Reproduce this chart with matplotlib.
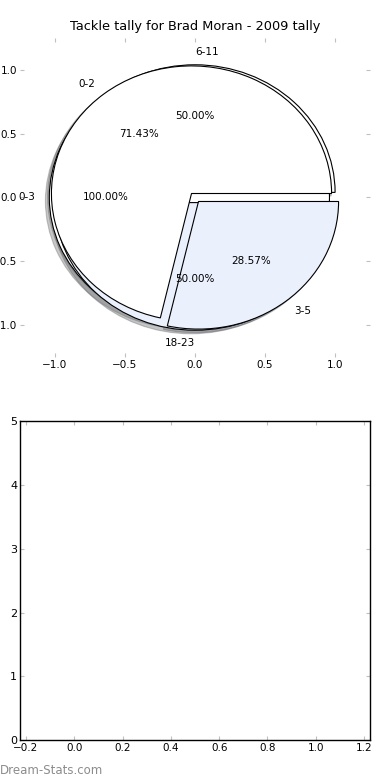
## tackle tally pies, recreated
#

import numpy as np
import matplotlib.pyplot as plt

# three pies drawn on top of each other
labels_a = ['0-3']
sizes_a = [1]
labels_b = ['6-11', '18-23']
sizes_b = [1, 1]
labels_c = ['0-2', '3-5']
sizes_c = [5, 2]

pie_colors = ['white', '#eaf0fc']
tick_grey = '#c0c0c0'

fig = plt.figure(figsize=(3.9, 7.8), dpi=100)
fig.patch.set_facecolor('white')

# top axes - the pies
ax1 = fig.add_axes([0.051, 0.5423, 0.898, 0.409])
all_texts = []
for lab, val in [(labels_a, sizes_a), (labels_b, sizes_b), (labels_c, sizes_c)]:
    wedges, texts, autotexts = ax1.pie(val, labels=lab, autopct='%1.2f%%',
                                       explode=[0.04] * len(val),
                                       shadow={'ox': -0.02, 'oy': -0.02, 'shade': 0.55,
                                               'alpha': 0.4},
                                       colors=pie_colors[:len(val)],
                                       wedgeprops={'edgecolor': 'black', 'linewidth': 0.8},
                                       textprops={'fontsize': 7.5})
    all_texts.append(texts)

# old style alignment for the top / bottom labels of the 50-50 pie
all_texts[1][0].set_horizontalalignment('left')
all_texts[1][1].set_horizontalalignment('right')

ax1.set_aspect('auto')
ax1.set_xlim(-1.25, 1.25)
ax1.set_ylim(-1.25, 1.25)
ax1.set_xticks([-1.0, -0.5, 0.0, 0.5, 1.0])
ax1.set_yticks([-1.0, -0.5, 0.0, 0.5, 1.0])
ax1.set_xticklabels(['\u22121.0', '\u22120.5', '0.0', '0.5', '1.0'])
ax1.set_yticklabels(['\u22121.0', '\u22120.5', '0.0', '0.5', '1.0'])
ax1.tick_params(direction='in', length=3, color=tick_grey, labelsize=7.5, pad=2,
                top=True, right=True)
ax1.set_title('Tackle tally for Brad Moran - 2009 tally', fontsize=9.3, pad=6)

# bottom axes - empty
ax2 = fig.add_axes([0.051, 0.051, 0.898, 0.409])
ax2.set_xlim(-0.225, 1.225)
ax2.set_ylim(0, 5)
ax2.set_xticks(np.arange(-0.2, 1.21, 0.2))
ax2.set_xticklabels(['\u22120.2', '0.0', '0.2', '0.4', '0.6', '0.8', '1.0', '1.2'])
ax2.set_yticks([0, 1, 2, 3, 4, 5])
ax2.set_yticklabels(['0', '1', '2', '3', '4', '5'])
ax2.tick_params(direction='in', length=3, color=tick_grey, labelsize=7.5, pad=2,
                top=True, right=True)
ax2.tick_params(axis='y', labelsize=8)
for s in ax2.spines.values():
    s.set_linewidth(1.0)

fig.text(0.0, 0.012, 'Dream-Stats.com', fontsize=8.5, color='#8c8c8c', ha='left', va='center')

plt.savefig('out.png', dpi=100)
